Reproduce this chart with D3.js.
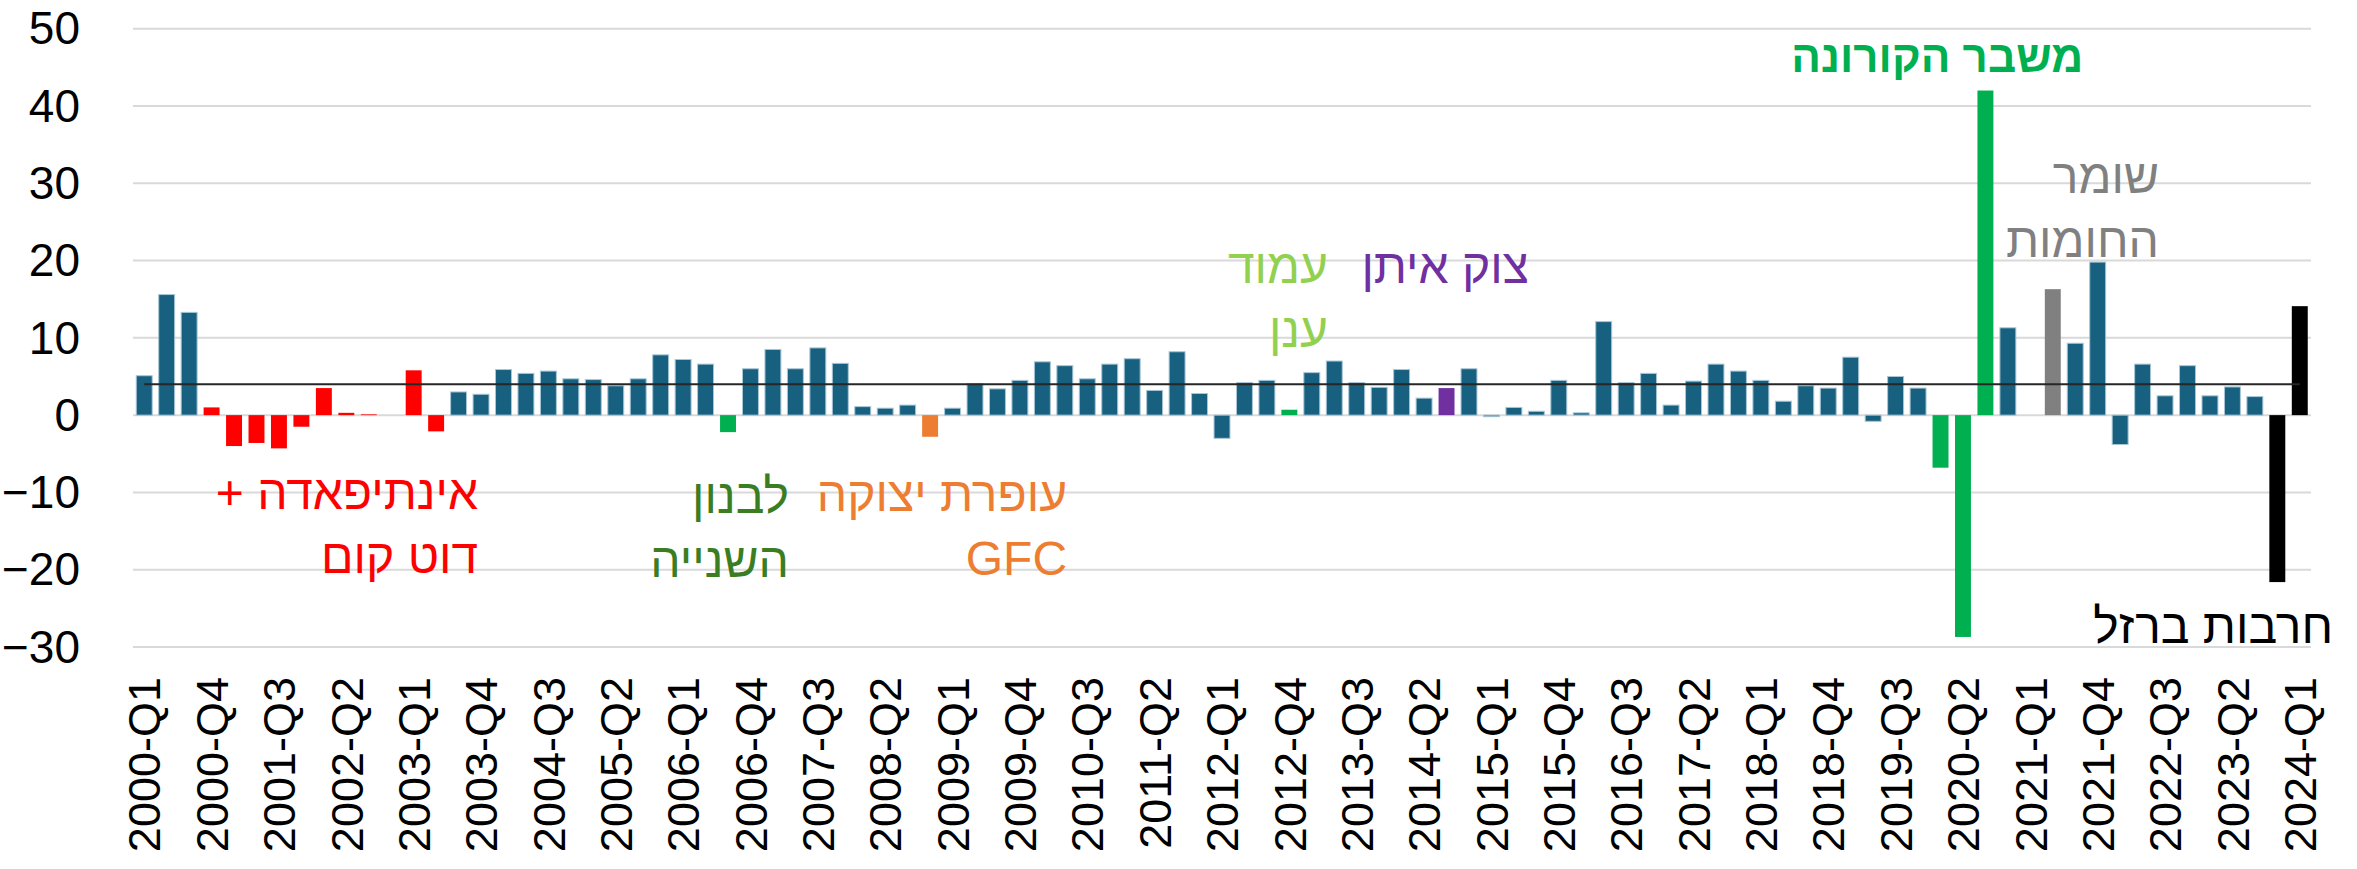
<!DOCTYPE html>
<html>
<head>
<meta charset="utf-8">
<script src="https://cdn.jsdelivr.net/npm/d3@7"></script>
<style>
  html, body { margin: 0; padding: 0; background: #fff; }
  svg { display: block; font-family: "Liberation Sans", Arial, sans-serif; }
</style>
</head>
<body>
<main></main>
<script>
const width = 2357;
const height = 869;

// quarters 2000-Q1 .. 2024-Q1
const years = d3.range(2000, 2025);
const quarters = ['Q1', 'Q2', 'Q3', 'Q4'];
const categories = years.flatMap(y => quarters.map(q => `${y}-${q}`)).slice(0, 97);

// quarterly change
const values = [
  5.1, 15.6, 13.3, 1.0,
  -4.0, -3.6, -4.3, -1.5,
  3.5, 0.3, 0.1, 0,
  5.8, -2.1, 3.0, 2.7,
  5.9, 5.4, 5.7, 4.7,
  4.6, 3.8, 4.7, 7.8,
  7.2, 6.6, -2.2, 6.0,
  8.5, 6.0, 8.7, 6.7,
  1.1, 0.9, 1.3, -2.8,
  0.9, 4.1, 3.4, 4.5,
  6.9, 6.4, 4.7, 6.6,
  7.3, 3.2, 8.2, 2.8,
  -3.0, 4.2, 4.5, 0.7,
  5.5, 7.0, 4.2, 3.6,
  5.9, 2.2, 3.5, 6.0,
  -0.2, 1.0, 0.5, 4.5,
  0.3, 12.1, 4.2, 5.4,
  1.3, 4.4, 6.6, 5.7,
  4.5, 1.8, 3.8, 3.5,
  7.5, -0.8, 5.0, 3.5,
  -6.8, -28.7, 42.0, 11.3,
  0, 16.3, 9.3, 19.8,
  -3.8, 6.6, 2.5, 6.4,
  2.5, 3.65, 2.4, -21.6,
  14.1
];

const average = 4.0;

const yTicks = [-30, -20, -10, 0, 10, 20, 30, 40, 50];

// quarters belonging to each event
const eventQuarters = {
  intifada: ['2000-Q4', '2001-Q1', '2001-Q2', '2001-Q3', '2001-Q4', '2002-Q1', '2002-Q2', '2002-Q3', '2002-Q4', '2003-Q1', '2003-Q2'],
  lebanon: ['2006-Q3'],
  cast: ['2008-Q4'],
  pillar: ['2012-Q4'],
  edge: ['2014-Q3'],
  covid: ['2020-Q1', '2020-Q2', '2020-Q3'],
  walls: ['2021-Q2'],
  swords: ['2023-Q4', '2024-Q1']
};

const eventLabels = {
  intifada: ['אינתיפאדה +', 'דוט קום'],
  lebanon: ['לבנון', 'השנייה'],
  cast: ['עופרת יצוקה', 'GFC'],
  pillar: ['עמוד', 'ענן'],
  edge: ['צוק איתן'],
  covid: ['משבר הקורונה'],
  walls: ['שומר', 'החומות'],
  swords: ['חרבות ברזל']
};

// ---- styles / layout ----
const barColor = {
  none: '#17607f', intifada: '#ff0000', lebanon: '#00b050', cast: '#ed7d31',
  pillar: '#00b050', edge: '#7030a0', covid: '#00b050', walls: '#808080', swords: '#000000'
};
const labelColor = {
  intifada: '#ff0000', lebanon: '#3a7d22', cast: '#ed7d31', pillar: '#92d050',
  edge: '#7030a0', covid: '#00b050', walls: '#808080', swords: '#000000'
};
// label anchor (right edge) as [bar index, y value of first baseline]
const labelAt = {
  intifada: [14.87, -12.1], lebanon: [28.71, -12.7], cast: [41.1, -12.4],
  pillar: [52.72, 17.1], edge: [61.67, 17.1], covid: [86.35, 44.4],
  walls: [89.73, 28.7], swords: [97.48, -29.5]
};
const lineHeight = 64;

const eventOf = {};
Object.entries(eventQuarters).forEach(([k, qs]) => qs.forEach(q => { eventOf[q] = k; }));

const data = categories.map((c, i) => ({cat: c, value: values[i], event: eventOf[c] || 'none'}));

const svg = d3.select('main').append('svg')
  .attr('width', width)
  .attr('height', height);

const x = d3.scaleBand()
  .domain(categories)
  .range([133, 2311])
  .paddingInner(0.29)
  .paddingOuter(0.145);

const y = d3.scaleLinear()
  .domain([-30, 50])
  .range([647, 28.7]);

const xi = d3.scaleLinear()
  .domain([0, categories.length - 1])
  .range([x(categories[0]) + x.bandwidth() / 2, x(categories[categories.length - 1]) + x.bandwidth() / 2]);

// gridlines
svg.append('g')
  .selectAll('line')
  .data(yTicks)
  .enter().append('line')
  .attr('x1', 133).attr('x2', 2311)
  .attr('y1', d => y(d)).attr('y2', d => y(d))
  .style('stroke', '#d9d9d9')
  .style('stroke-width', 2);

// y labels
const yAxis = svg.append('g')
  .attr('transform', 'translate(80,0)')
  .call(d3.axisLeft(y).tickValues(yTicks).tickSize(0).tickPadding(0));
yAxis.select('.domain').remove();
yAxis.selectAll('text')
  .attr('dy', '0.33em')
  .style('font-size', '46px')
  .style('font-family', '"Liberation Sans", Arial, sans-serif')
  .style('fill', '#000');

// bars
svg.append('g')
  .selectAll('rect')
  .data(data)
  .enter().append('rect')
  .attr('x', d => x(d.cat))
  .attr('width', x.bandwidth())
  .attr('y', d => y(Math.max(0, d.value)))
  .attr('height', d => Math.abs(y(d.value) - y(0)))
  .style('fill', d => barColor[d.event])
  .style('stroke', d => d.event === 'none' ? '#a8c6d6' : 'none')
  .style('stroke-width', 1);

// average line
svg.append('line')
  .attr('x1', xi(0)).attr('x2', xi(categories.length - 1))
  .attr('y1', y(average)).attr('y2', y(average))
  .style('stroke', '#262626')
  .style('stroke-width', 2);

// x labels, every third quarter
const xAxis = svg.append('g')
  .attr('transform', 'translate(0,677)')
  .call(d3.axisBottom(x).tickValues(categories.filter((c, i) => i % 3 === 0)).tickSize(0).tickPadding(0));
xAxis.select('.domain').remove();
xAxis.selectAll('text')
  .attr('transform', 'rotate(-90)')
  .attr('x', 0).attr('y', 0)
  .attr('dy', '0.36em')
  .style('text-anchor', 'end')
  .style('font-size', '45px')
  .style('font-family', '"Liberation Sans", Arial, sans-serif')
  .style('fill', '#000');

// event labels
const labels = svg.append('g')
  .selectAll('text')
  .data(Object.keys(eventLabels))
  .enter().append('text')
  .attr('x', d => xi(labelAt[d][0]))
  .attr('y', d => y(labelAt[d][1]))
  .attr('direction', 'rtl')
  .style('text-anchor', 'start')
  .style('font-size', d => d === 'covid' ? '44px' : '48px')
  .style('font-weight', d => d === 'covid' ? 'bold' : 'normal')
  .style('fill', d => labelColor[d]);

labels.selectAll('tspan')
  .data(d => eventLabels[d].map((t, i) => ({t, i, k: d})))
  .enter().append('tspan')
  .attr('x', d => xi(labelAt[d.k][0]))
  .attr('dy', d => d.i === 0 ? 0 : lineHeight)
  .text(d => d.t);
</script>
</body>
</html>
